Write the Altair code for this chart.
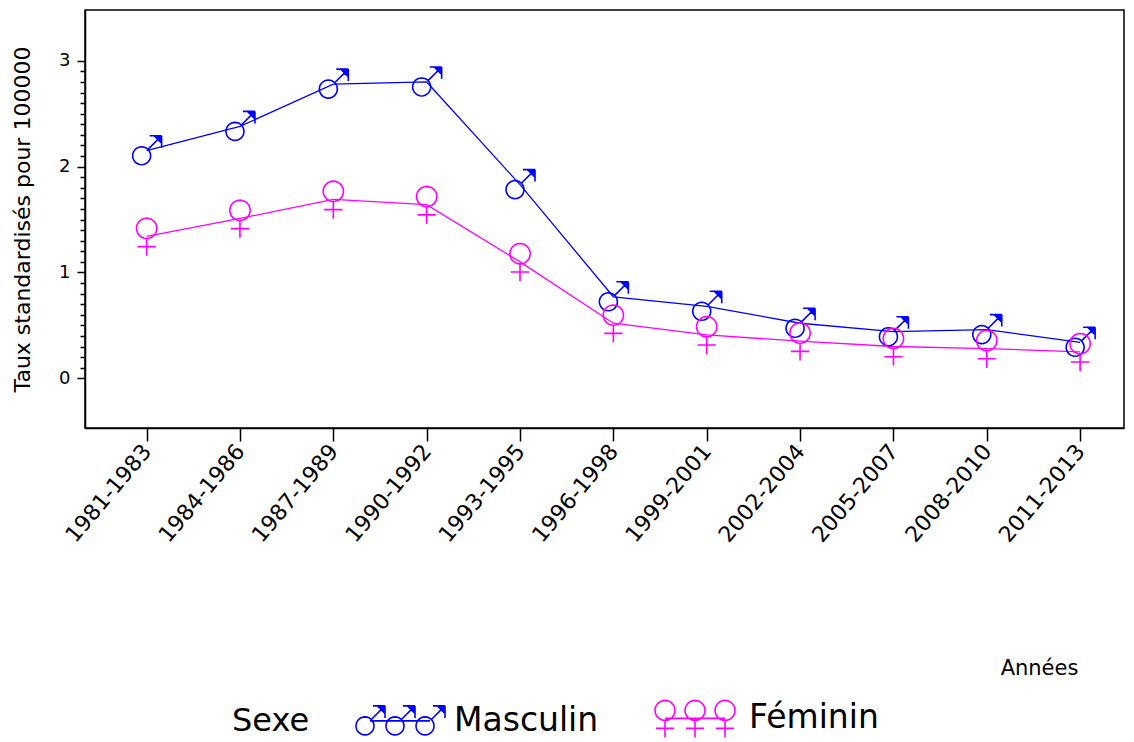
import altair as alt
import pandas as pd
import math

# ---------------- data ----------------
periods = ["1981-1983", "1984-1986", "1987-1989", "1990-1992", "1993-1995",
           "1996-1998", "1999-2001", "2002-2004", "2005-2007", "2008-2010", "2011-2013"]
masculin = [2.15, 2.38, 2.78, 2.80, 1.83, 0.77, 0.68, 0.52, 0.44, 0.46, 0.34]
feminin = [1.34, 1.51, 1.69, 1.64, 1.10, 0.52, 0.41, 0.35, 0.30, 0.28, 0.25]
sexes = ["Masculin", "Féminin"]
colors = ["#0000ff", "#ff00ff"]

rows = []
for i, p in enumerate(periods):
    rows.append({"idx": i, "periode": p, "sexe": "Masculin", "taux": masculin[i]})
    rows.append({"idx": i, "periode": p, "sexe": "Féminin", "taux": feminin[i]})
df = pd.DataFrame(rows)

# ---------------- marker shapes (SVG paths, unit box) ----------------
def f(v):
    return f"{v:.4f}"

def poly_circle(cx, cy, r, n=28):
    pts = []
    for k in range(n):
        a = 2 * math.pi * k / n
        pts.append(f"{f(cx + r * math.cos(a))},{f(cy + r * math.sin(a))}")
    return "M" + " L".join(pts) + " Z"

def seg(x1, y1, x2, y2):
    return f"M{f(x1)},{f(y1)} L{f(x2)},{f(y2)}"

def male_parts(ox=0.0, s=1.0):
    P = lambda x, y: (ox + s * x, s * y)
    out = [poly_circle(ox + s * -0.333, s * 0.333, s * 0.6)]
    out.append(seg(*P(0.09, -0.09), *P(1.0, -1.0)))
    out.append(seg(*P(1.0, -1.0), *P(0.2, -1.0)))
    out.append(seg(*P(1.0, -1.0), *P(1.0, -0.2)))
    for fr in (0.5, 0.36, 0.22, 0.1):
        out.append(seg(*P(1.0 - fr, -1.0), *P(1.0, -1.0 + fr)))
    return " ".join(out)

def female_parts(ox=0.0, s=1.0):
    P = lambda x, y: (ox + s * x, s * y)
    out = [poly_circle(ox, s * -0.533, s * 0.667)]
    out.append(seg(*P(0.0, 0.133), *P(0.0, 1.267)))
    out.append(seg(*P(-0.6, 0.667), *P(0.6, 0.667)))
    return " ".join(out)

MALE = male_parts()
FEMALE = female_parts()
MALE_LEG = " ".join([male_parts(o, 1 / 3) for o in (-0.667, 0.0, 0.667)] + [seg(-0.667, 0, 0.667, 0)])
FEMALE_LEG = " ".join([female_parts(o, 1 / 3) for o in (-0.667, 0.0, 0.667)] + [seg(-0.667, 0, 0.667, 0)])

FONT = "DejaVu Sans"

js_periods = "[" + ",".join(f"'{p}'" for p in periods) + "]"

x_axis = alt.Axis(
    values=list(range(len(periods))),
    labelExpr=f"{js_periods}[round(datum.value)]",
    labelAngle=310, labelAlign="right", labelBaseline="middle",
    labelFontSize=22, labelPadding=6, labelOverlap=False,
    tickSize=13, grid=False,
    title="Années", titleX=954, titleY=240, titleAlign="center",
    titleBaseline="middle", titleFontSize=21, titleFontWeight="normal", titleAngle=0,
)

y_axis = alt.Axis(
    values=[round(i * 0.1, 1) for i in range(31)],
    labelExpr="datum.value % 1 === 0 ? format(datum.value, 'd') : ''",
    tickSize={"condition": {"test": "datum.value % 1 === 0", "value": 8}, "value": 5},
    labelFontSize=18, labelPadding=7, grid=False,
    title="Taux standardisés pour 100000", titleX=-63, titleY=209,
    titleAngle=270, titleAlign="center", titleBaseline="middle",
    titleFontSize=22, titleFontWeight="normal",
)

base = alt.Chart(df).encode(
    x=alt.X("idx:Q", scale=alt.Scale(domain=[-0.66, 10.47], nice=False, zero=False), axis=x_axis),
    y=alt.Y("taux:Q", scale=alt.Scale(domain=[-0.47, 3.48], nice=False, zero=False), axis=y_axis),
)

line_m = base.transform_filter(alt.datum.sexe == "Masculin").mark_line(color=colors[0], strokeWidth=1.3)
line_f = base.transform_filter(alt.datum.sexe == "Féminin").mark_line(color=colors[1], strokeWidth=1.3)
pts_m = base.transform_filter(alt.datum.sexe == "Masculin").mark_point(
    shape=MALE, size=900, filled=False, color=colors[0], strokeWidth=1.6, opacity=1)
pts_f = base.transform_filter(alt.datum.sexe == "Féminin").mark_point(
    shape=FEMALE, size=930, filled=False, color=colors[1], strokeWidth=1.6, opacity=1)

leg = alt.Legend(
    orient="none", legendX=147, legendY=662, direction="horizontal",
    title="Sexe", titleOrient="left", titleAnchor="middle", titleBaseline="top",
    titleFontSize=32, labelFontSize=33, titleFontWeight="normal",
    titleFont=FONT, labelFont=FONT, titleColor="black", labelColor="black",
    symbolSize=8100, symbolStrokeWidth=1.6, symbolOpacity=1,
    labelOffset=8, columnPadding=50, titlePadding=44, labelLimit=400, padding=0,
)

legend_layer = base.transform_filter("false").mark_point(filled=False, strokeWidth=1.6, opacity=1).encode(
    color=alt.Color("sexe:N", scale=alt.Scale(domain=sexes, range=colors), legend=leg),
    shape=alt.Shape("sexe:N", scale=alt.Scale(domain=sexes, range=[MALE_LEG, FEMALE_LEG]), legend=leg),
)

chart = alt.layer(line_m, line_f, pts_m, pts_f, legend_layer).properties(
    width=1039, height=418,
    autosize=alt.AutoSizeParams(type="none"),
    padding={"left": 77, "top": 2, "right": 2, "bottom": 314},
).configure_view(
    stroke="black", strokeWidth=1.5,
).configure_axis(
    domainColor="black", tickColor="black", labelColor="black", titleColor="black",
    domainWidth=1.5, tickWidth=1.5, labelFont=FONT, titleFont=FONT,
)

chart.save("out.html", embed_options={"renderer": "svg", "actions": False})
